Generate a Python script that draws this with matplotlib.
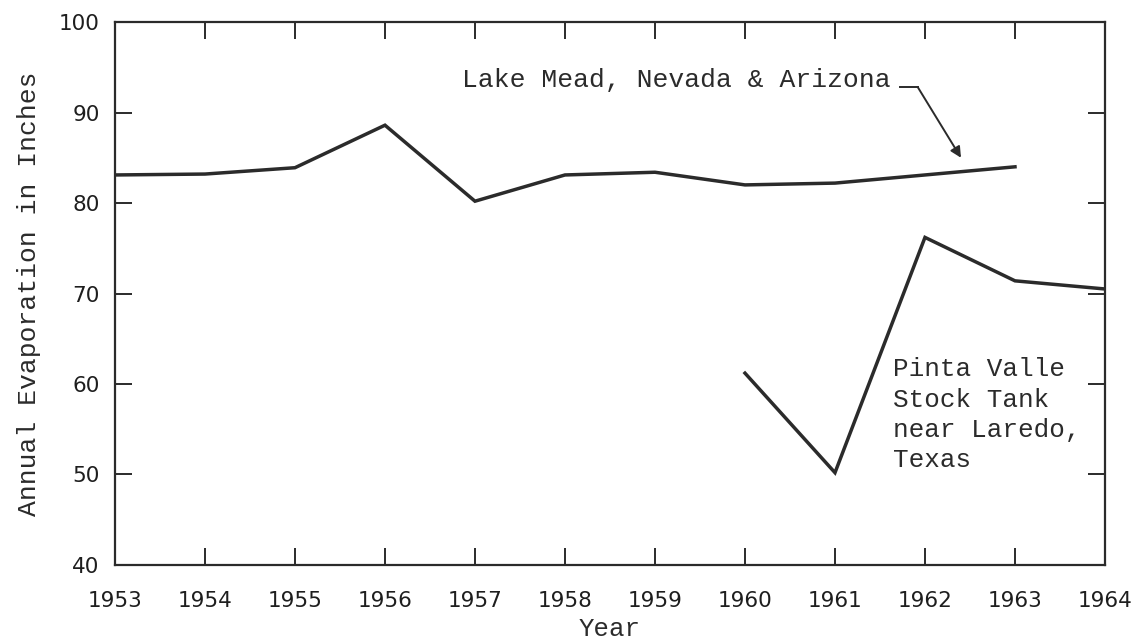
import matplotlib
matplotlib.use("Agg")
import matplotlib.pyplot as plt

# ── Data ─────────────────────────────────────────────────────────────────────
years_mead = [1953, 1954, 1955, 1956, 1957, 1958, 1959, 1960, 1961, 1962, 1963]
evap_mead = [83.1, 83.2, 83.9, 88.6, 80.2, 83.1, 83.4, 82.0, 82.2, 83.1, 84.0]

years_pinta = [1960, 1961, 1962, 1963, 1964]
evap_pinta = [61.2, 50.2, 76.2, 71.4, 70.5]

year_ticks = list(range(1953, 1965))
evap_ticks = [40, 50, 60, 70, 80, 90, 100]

INK = "#2b2b2b"
MONO = "Liberation Mono"

fig = plt.figure(figsize=(11.44, 6.44), dpi=100)
ax = fig.add_axes([0.1005, 0.1227, 0.8654, 0.8431])

ax.plot(years_mead, evap_mead, color=INK, linewidth=2.5, solid_joinstyle="miter")
ax.plot(years_pinta, evap_pinta, color=INK, linewidth=2.5, solid_joinstyle="miter")

ax.set_xlim(1953, 1964)
ax.set_ylim(40, 100)
ax.set_xticks(year_ticks)
ax.set_yticks(evap_ticks)

ax.tick_params(direction="in", length=12, width=1.4, color=INK,
               top=True, right=True, labelsize=15.5, labelcolor="#1e1e1e")
ax.tick_params(axis="x", pad=19)
ax.tick_params(axis="y", pad=11)
for spine in ax.spines.values():
    spine.set_linewidth(1.6)
    spine.set_edgecolor(INK)

ax.set_xlabel("Year", family=MONO, fontsize=18.5, color=INK, labelpad=4)
ax.set_ylabel("Annual Evaporation in Inches", family=MONO, fontsize=19,
              color=INK, labelpad=13)

# ── Annotations ───────────────────────────────────────────────────────────────
ax.text(1956.86, 93.6, "Lake Mead, Nevada & Arizona", family=MONO,
        fontsize=19, color=INK, ha="left", va="center")
ax.plot([1961.72, 1961.92], [92.8, 92.8], color=INK, linewidth=1.4)
ax.annotate("", xy=(1962.4, 85.0), xytext=(1961.92, 92.8),
            arrowprops=dict(arrowstyle="-|>", color=INK, lw=1.4,
                            mutation_scale=16, shrinkA=0, shrinkB=0))

ax.text(1961.64, 56.6, "Pinta Valle\nStock Tank\nnear Laredo,\nTexas",
        family=MONO, fontsize=18.7, color=INK, ha="left", va="center",
        linespacing=1.33)

fig.savefig("out.png", dpi=100)
